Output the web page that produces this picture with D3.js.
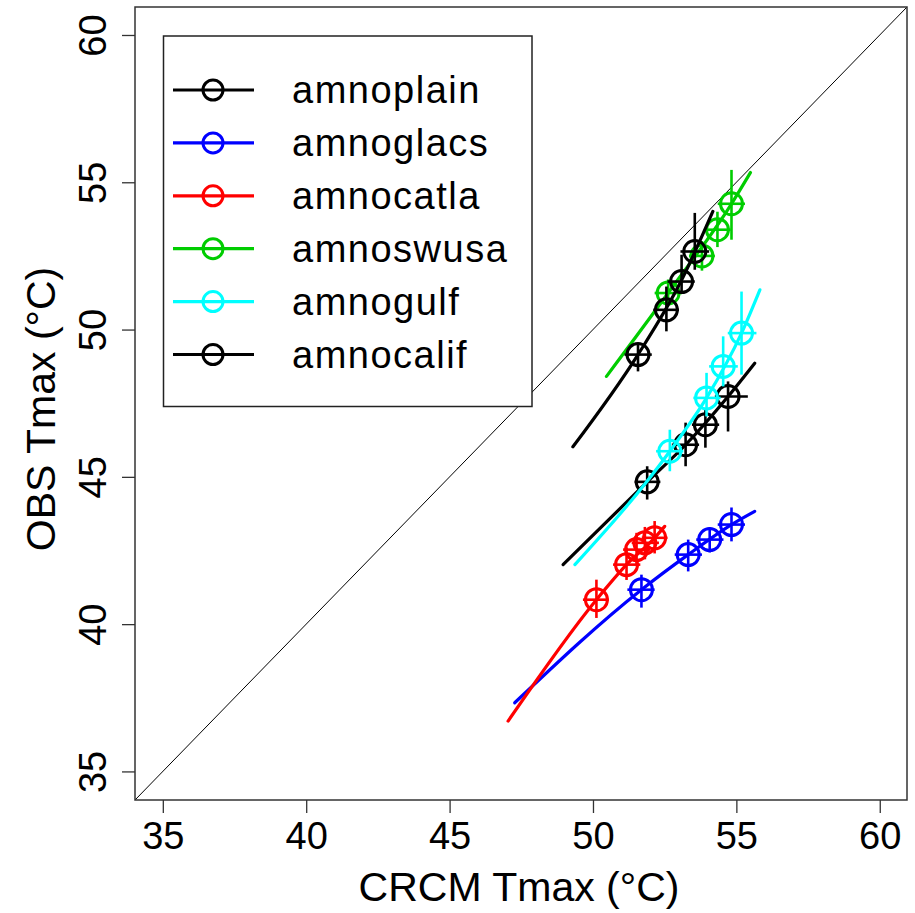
<!DOCTYPE html>
<html>
<head>
<meta charset="utf-8">
<script src="https://cdn.jsdelivr.net/npm/d3@7"></script>
<style>
  body { margin: 0; background: #fff; }
  svg { display: block; font-family: "Liberation Sans", Arial, sans-serif; }
</style>
</head>
<body>
<svg id="chart" width="915" height="913"></svg>
<script>
// CRCM vs OBS Tmax scatter with error bars and fitted curves

const seriesNames = ["amnoplain", "amnoglacs", "amnocatla", "amnoswusa", "amnogulf", "amnocalif"];
const seriesColors = ["#000000", "#0000ff", "#ff0000", "#00cd00", "#00ffff", "#000000"];
const tickValues = [35, 40, 45, 50, 55, 60];

// point centres (CRCM x, OBS y), one list per series
const pointX = [
    [51.89, 53.23, 53.92, 54.71],
    [51.69, 53.32, 54.07, 54.83],
    [50.12, 51.17, 51.52, 51.81, 52.15],
    [52.62, 53.80, 54.34, 54.83],
    [52.68, 53.96, 54.54, 55.18],
    [51.57, 52.56, 53.09, 53.55]
];
const pointY = [
    [44.83, 46.09, 46.77, 47.73],
    [41.17, 42.36, 42.87, 43.38],
    [40.83, 42.02, 42.53, 42.76, 42.93],
    [51.24, 52.50, 53.39, 54.27],
    [45.87, 47.68, 48.75, 49.88],
    [49.15, 50.67, 51.63, 52.65]
];

// error bar limits
const xLow = [
    [51.45, 52.75, 53.45, 54.25],
    [51.20, 52.85, 53.60, 54.35],
    [49.65, 50.70, 51.05, 51.35, 51.70],
    [52.15, 53.35, 53.90, 54.35],
    [52.20, 53.50, 54.05, 54.70],
    [51.10, 52.10, 52.60, 53.05]
];
const xHigh = [
    [52.35, 53.70, 54.40, 55.40],
    [52.15, 53.80, 54.55, 55.30],
    [50.55, 51.65, 52.00, 52.30, 52.60],
    [53.10, 54.25, 54.80, 55.30],
    [53.15, 54.45, 55.05, 55.70],
    [52.05, 53.00, 53.55, 54.05]
];
const yLow = [
    [44.23, 45.36, 45.99, 46.54],
    [40.56, 41.79, 42.43, 42.81],
    [40.21, 41.50, 42.00, 42.20, 42.40],
    [50.90, 52.00, 52.80, 53.05],
    [45.19, 47.05, 48.07, 48.47],
    [48.58, 49.94, 51.29, 52.03]
];
const yHigh = [
    [45.36, 46.84, 47.28, 48.24],
    [41.68, 42.87, 43.28, 43.96],
    [41.51, 42.60, 43.10, 43.30, 43.50],
    [51.70, 53.00, 54.00, 55.42],
    [46.60, 48.53, 49.77, 51.29],
    [49.55, 51.46, 52.54, 53.96]
];

// fitted curves, points
const curveX = [
    [48.96, 51.89, 53.23, 54.71, 55.64],
    [47.27, 51.69, 53.32, 54.83, 55.64],
    [47.04, 50.12, 51.17, 52.15, 52.50],
    [50.47, 52.62, 54.83, 55.49],
    [49.37, 52.68, 53.96, 55.18, 55.82],
    [49.30, 51.57, 53.06, 54.18]
];
const curveY = [
    [42.02, 44.83, 46.09, 47.73, 48.86],
    [37.33, 41.17, 42.36, 43.38, 43.83],
    [36.71, 40.83, 42.02, 42.93, 43.32],
    [48.41, 51.24, 54.27, 55.33],
    [42.02, 45.87, 47.68, 49.88, 51.35],
    [46.02, 49.15, 51.62, 54.01]
];

const svg = d3.select("#chart");
const plotLeft = 135, plotRight = 907, plotTop = 7, plotBottom = 800;

const x = d3.scaleLinear().domain([34.03, 60.95]).range([plotLeft, plotRight]);
const y = d3.scaleLinear().domain([34.03, 60.95]).range([plotBottom, plotTop]);

svg.append("rect").attr("width", 915).attr("height", 913).attr("fill", "#fff");

svg.append("defs").append("clipPath").attr("id", "plot-clip")
    .append("rect").attr("x", plotLeft).attr("y", plotTop)
    .attr("width", plotRight - plotLeft).attr("height", plotBottom - plotTop);

// 1:1 line
svg.append("line")
    .attr("clip-path", "url(#plot-clip)")
    .attr("x1", x(34.03)).attr("y1", y(34.03))
    .attr("x2", x(60.95)).attr("y2", y(60.95))
    .attr("stroke", "#000").attr("stroke-width", 1);

// axes
const xAxis = svg.append("g")
    .attr("transform", `translate(0,${plotBottom})`)
    .call(d3.axisBottom(x).tickValues(tickValues).tickSize(13).tickPadding(9));

const yAxis = svg.append("g")
    .attr("transform", `translate(${plotLeft},0)`)
    .call(d3.axisLeft(y).tickValues(tickValues).tickSize(13));

[xAxis, yAxis].forEach(g => {
    g.select(".domain").remove();
    g.selectAll(".tick line").attr("stroke", "#333").attr("stroke-width", 1.3);
    g.selectAll("text")
        .attr("font-family", "Liberation Sans, Arial, sans-serif")
        .attr("font-size", 38)
        .attr("fill", "#000");
});

yAxis.selectAll("text")
    .attr("x", null).attr("dy", null)
    .attr("text-anchor", "middle")
    .attr("transform", "translate(-29,0) rotate(-90)");

// plot box
svg.append("rect")
    .attr("x", plotLeft).attr("y", plotTop)
    .attr("width", plotRight - plotLeft).attr("height", plotBottom - plotTop)
    .attr("fill", "none").attr("stroke", "#333").attr("stroke-width", 1.5);

// axis titles
svg.append("text")
    .attr("x", 519).attr("y", 901)
    .attr("text-anchor", "middle")
    .attr("font-size", 41)
    .text("CRCM Tmax (°C)");

svg.append("text")
    .attr("transform", "translate(55,409) rotate(-90)")
    .attr("text-anchor", "middle")
    .attr("font-size", 41)
    .text("OBS Tmax (°C)");

// series
const line = d3.line().x(d => x(d[0])).y(d => y(d[1])).curve(d3.curveMonotoneX);

seriesNames.forEach((name, i) => {
    const color = seriesColors[i];
    const g = svg.append("g").attr("class", "series").attr("clip-path", "url(#plot-clip)");

    g.append("path")
        .attr("d", line(curveX[i].map((v, k) => [v, curveY[i][k]])))
        .attr("fill", "none")
        .attr("stroke", color)
        .attr("stroke-width", 3.2)
        .attr("stroke-linecap", "round");

    pointX[i].forEach((px, k) => {
        const py = pointY[i][k];
        g.append("line")
            .attr("x1", x(px)).attr("x2", x(px))
            .attr("y1", y(yLow[i][k])).attr("y2", y(yHigh[i][k]))
            .attr("stroke", color).attr("stroke-width", 2.6);
        g.append("line")
            .attr("x1", x(xLow[i][k])).attr("x2", x(xHigh[i][k]))
            .attr("y1", y(py)).attr("y2", y(py))
            .attr("stroke", color).attr("stroke-width", 2.6);
        g.append("circle")
            .attr("cx", x(px)).attr("cy", y(py)).attr("r", 11)
            .attr("fill", "none")
            .attr("stroke", color).attr("stroke-width", 3);
    });
});

// legend
const legend = svg.append("g");
legend.append("rect")
    .attr("x", 163.5).attr("y", 36)
    .attr("width", 368.5).attr("height", 370.5)
    .attr("fill", "#fff").attr("stroke", "#222").attr("stroke-width", 1.5);

seriesNames.forEach((name, i) => {
    const ly = 90 + i * 52.9;
    legend.append("line")
        .attr("x1", 173).attr("x2", 254).attr("y1", ly).attr("y2", ly)
        .attr("stroke", seriesColors[i]).attr("stroke-width", 3.2);
    legend.append("circle")
        .attr("cx", 213).attr("cy", ly).attr("r", 10)
        .attr("fill", "none")
        .attr("stroke", seriesColors[i]).attr("stroke-width", 3);
    legend.append("text")
        .attr("x", 292).attr("y", ly + 13)
        .attr("font-size", 38)
        .attr("letter-spacing", 1.5)
        .text(name);
});
</script>
</body>
</html>
